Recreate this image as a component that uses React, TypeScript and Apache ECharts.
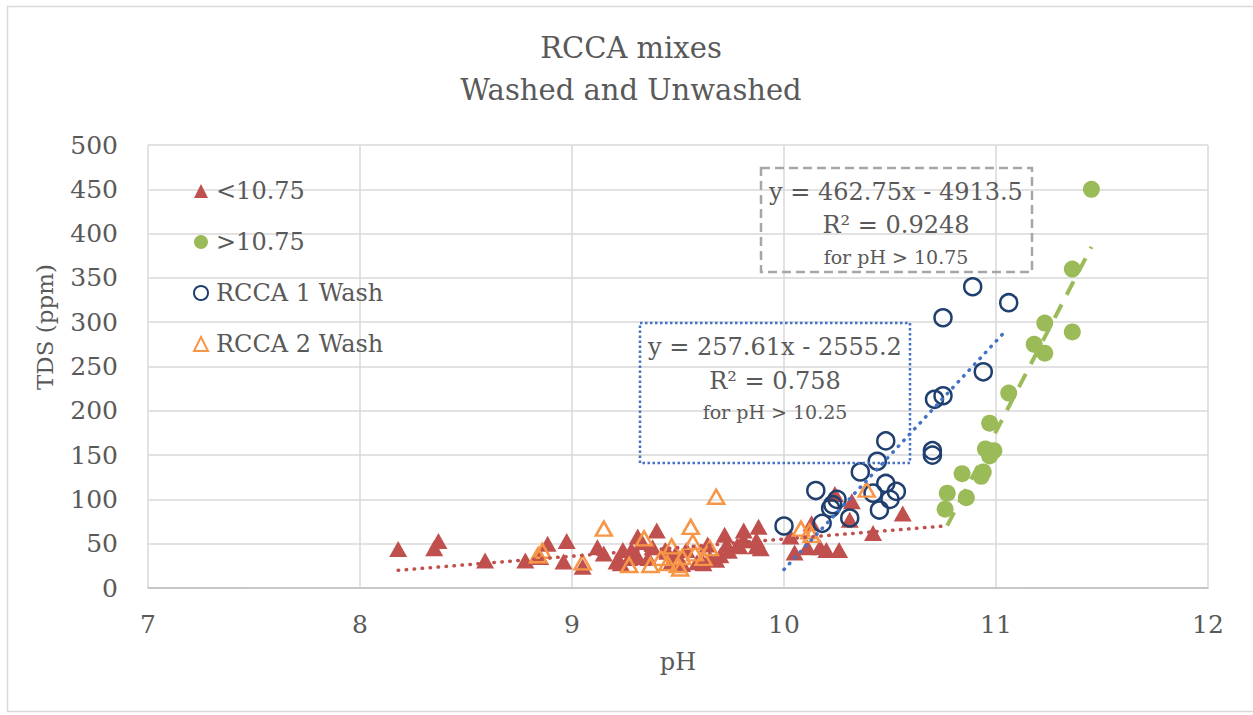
import React, { useEffect, useRef } from "react";
import * as echarts from "echarts";

const titleLines = ["RCCA mixes", "Washed and Unwashed"];
const xTicks = { min: 7, max: 12, interval: 1 };
const yTicks = { min: 0, max: 500, interval: 50 };

const redPH = [8.18, 8.37, 8.35, 8.59, 8.78, 8.85, 8.885, 8.975, 8.96, 9.05, 9.12, 9.15, 9.24, 9.23, 9.21, 9.28, 9.27, 9.31, 9.31, 9.33, 9.40, 9.38, 9.36, 9.44, 9.45, 9.47, 9.49, 9.52, 9.54, 9.59, 9.62, 9.64, 9.65, 9.68, 9.70, 9.72, 9.73, 9.74, 9.78, 9.79, 9.81, 9.81, 9.87, 9.87, 9.88, 9.89, 10.03, 10.05, 10.11, 10.13, 10.17, 10.20, 10.24, 10.26, 10.31, 10.32, 10.42, 10.56];
const redTDS = [44, 53, 45, 31, 31, 35, 50, 53, 30, 24, 46, 39, 43, 28, 30, 43, 34, 35, 58, 52, 65, 46, 34, 43, 41, 30, 39, 27, 43, 29, 28, 49, 34, 32, 37, 60, 49, 42, 48, 47, 65, 54, 54, 47, 69, 45, 58, 40, 46, 73, 46, 43, 106, 43, 77, 98, 62, 84];

const greenPH = [11.45, 11.36, 11.36, 11.23, 11.18, 11.23, 11.06, 10.97, 10.95, 10.99, 10.97, 10.93, 10.94, 10.84, 10.86, 10.77, 10.76];
const greenTDS = [450, 360, 289, 299, 275, 265, 220, 186, 157, 155, 149, 126, 131, 129, 102, 107, 89];

const wash1PH = [10.0, 10.15, 10.18, 10.22, 10.23, 10.25, 10.31, 10.36, 10.44, 10.48, 10.48, 10.42, 10.53, 10.5, 10.45, 10.89, 11.06, 10.75, 10.94, 10.71, 10.75, 10.7, 10.7];
const wash1TDS = [70, 110, 73, 90, 94, 100, 79, 131, 143, 166, 118, 107, 109, 100, 88, 340, 322, 305, 244, 213, 217, 155, 150];

const wash2PH = [8.86, 8.84, 9.05, 9.15, 9.27, 9.34, 9.37, 9.42, 9.45, 9.47, 9.5, 9.51, 9.52, 9.56, 9.57, 9.58, 9.62, 9.65, 9.68, 10.08, 10.12, 10.13, 10.39];
const wash2TDS = [42, 37, 29, 67, 26, 56, 26, 34, 28, 47, 26, 22, 35, 69, 52, 39, 34, 45, 103, 67, 64, 60, 111];

const seriesNames = ["<10.75", ">10.75", "RCCA 1 Wash", "RCCA 2 Wash"];

// trendlines: slope, intercept, x range
const redTrend = { slope: 19.4, intercept: -138.7, from: 8.18, to: 10.76 };
const blueTrend = { slope: 257.61, intercept: -2555.2, from: 10.0, to: 11.04 };
const greenTrend = { slope: 462.75, intercept: -4913.5, from: 10.77, to: 11.45 };

const greenLabel = ["y = 462.75x - 4913.5", "R² = 0.9248", "for pH > 10.75"];
const blueLabel = ["y = 257.61x - 2555.2", "R² = 0.758", "for pH > 10.25"];

const FONT = "'DejaVu Serif', serif";
const TEXT = "#595959";

function pts(xs: number[], ys: number[]) {
  return xs.map((x, i) => [x, ys[i]]);
}
function trend(t: { slope: number; intercept: number; from: number; to: number }) {
  return [
    [t.from, t.slope * t.from + t.intercept],
    [t.to, t.slope * t.to + t.intercept],
  ];
}

export default function App() {
  const ref = useRef<HTMLDivElement>(null);
  useEffect(() => {
    if (!ref.current) return;
    const chart = echarts.init(ref.current, null, { renderer: "svg" });
    const trendBase = {
      type: "line" as const,
      showSymbol: false,
      symbol: "none",
      silent: true,
      z: 5,
    };
    chart.setOption({
      animation: false,
      backgroundColor: "#fff",
      textStyle: { fontFamily: FONT },
      grid: { left: 148, right: 45, top: 145, bottom: 127 },
      legend: {
        data: seriesNames,
        orient: "vertical",
        left: 188,
        top: 173,
        itemWidth: 14,
        itemHeight: 14,
        itemGap: 25,
        textStyle: { fontFamily: FONT, fontSize: 24, color: TEXT, lineHeight: 26, padding: [0, 0, 0, 3] },
      },
      xAxis: {
        type: "value",
        min: xTicks.min,
        max: xTicks.max,
        interval: xTicks.interval,
        name: "pH",
        nameLocation: "middle",
        nameGap: 62,
        nameTextStyle: { fontFamily: FONT, fontSize: 24, color: TEXT },
        axisLine: { show: true, lineStyle: { color: "#BFBFBF", width: 1.5 } },
        axisTick: { show: false },
        axisLabel: { fontFamily: FONT, fontSize: 25, color: TEXT, margin: 24 },
        splitLine: { show: true, lineStyle: { color: "#D9D9D9", width: 1.5 } },
      },
      yAxis: {
        type: "value",
        min: yTicks.min,
        max: yTicks.max,
        interval: yTicks.interval,
        axisLine: { show: false },
        axisTick: { show: false },
        axisLabel: { fontFamily: FONT, fontSize: 25, color: TEXT, margin: 30 },
        splitLine: { show: true, lineStyle: { color: "#D9D9D9", width: 1.5 } },
      },
      graphic: [
        {
          type: "rect",
          shape: { x: 7.5, y: 6.5, width: 1250, height: 705 },
          style: { fill: "none", stroke: "#D9D9D9", lineWidth: 1.5 },
          silent: true,
        },
        {
          type: "text",
          x: 631,
          y: 48,
          style: { text: titleLines[0], font: `29px ${FONT}`, fill: TEXT, align: "center", verticalAlign: "middle" },
        },
        {
          type: "text",
          x: 631,
          y: 90,
          style: { text: titleLines[1], font: `29px ${FONT}`, fill: TEXT, align: "center", verticalAlign: "middle" },
        },
        {
          type: "text",
          x: 45,
          y: 327,
          rotation: Math.PI / 2,
          style: { text: "TDS (ppm)", font: `23px ${FONT}`, fill: TEXT, align: "center", verticalAlign: "middle" },
        },
        {
          type: "rect",
          shape: { x: 761, y: 168, width: 271, height: 104 },
          style: { fill: "none", stroke: "#A6A6A6", lineWidth: 2.5, lineDash: [9, 5] },
          z: 10,
        },
        {
          type: "rect",
          shape: { x: 640, y: 323, width: 270, height: 140 },
          style: { fill: "none", stroke: "#4472C4", lineWidth: 2.5, lineDash: [2.5, 2.5] },
          z: 10,
        },
        { type: "text", x: 896, y: 192, z: 10, style: { text: greenLabel[0], font: `24px ${FONT}`, fill: TEXT, align: "center", verticalAlign: "middle" } },
        { type: "text", x: 896, y: 225, z: 10, style: { text: greenLabel[1], font: `24px ${FONT}`, fill: TEXT, align: "center", verticalAlign: "middle" } },
        { type: "text", x: 896, y: 257, z: 10, style: { text: greenLabel[2], font: `19px ${FONT}`, fill: TEXT, align: "center", verticalAlign: "middle" } },
        { type: "text", x: 775, y: 347, z: 10, style: { text: blueLabel[0], font: `24px ${FONT}`, fill: TEXT, align: "center", verticalAlign: "middle" } },
        { type: "text", x: 775, y: 381, z: 10, style: { text: blueLabel[1], font: `24px ${FONT}`, fill: TEXT, align: "center", verticalAlign: "middle" } },
        { type: "text", x: 775, y: 412, z: 10, style: { text: blueLabel[2], font: `19px ${FONT}`, fill: TEXT, align: "center", verticalAlign: "middle" } },
      ],
      series: [
        {
          name: seriesNames[0],
          type: "scatter",
          symbol: "triangle",
          symbolSize: [18, 16],
          itemStyle: { color: "#C0504D", opacity: 1 },
          data: pts(redPH, redTDS),
          z: 2,
        },
        {
          name: seriesNames[1],
          type: "scatter",
          symbol: "circle",
          symbolSize: 17,
          itemStyle: { color: "#9BBB59", opacity: 1 },
          data: pts(greenPH, greenTDS),
          z: 2,
        },
        {
          name: seriesNames[2],
          type: "scatter",
          symbol: "circle",
          symbolSize: 17,
          itemStyle: { color: "rgba(255,255,255,0)", borderColor: "#1F3F6F", borderWidth: 2.5, opacity: 1 },
          data: pts(wash1PH, wash1TDS),
          z: 3,
        },
        {
          name: seriesNames[3],
          type: "scatter",
          symbol: "triangle",
          symbolSize: [16, 14],
          itemStyle: { color: "rgba(255,255,255,0)", borderColor: "#F79646", borderWidth: 2.5, opacity: 1 },
          data: pts(wash2PH, wash2TDS),
          z: 3,
        },
        {
          ...trendBase,
          name: "trend-red",
          data: trend(redTrend),
          lineStyle: { color: "#C0504D", width: 3.5, type: [0.5, 7.5], cap: "round" },
        },
        {
          ...trendBase,
          name: "trend-blue",
          data: trend(blueTrend),
          lineStyle: { color: "#4472C4", width: 3.5, type: [0.5, 7.5], cap: "round" },
        },
        {
          ...trendBase,
          name: "trend-green",
          data: trend(greenTrend),
          lineStyle: { color: "#9BBB59", width: 4, type: [15, 11] },
        },
      ],
    });
    return () => chart.dispose();
  }, []);
  return (
    <div
      ref={ref}
      style={{ position: "absolute", left: 0, top: 0, width: 1253, height: 715 }}
    />
  );
}
